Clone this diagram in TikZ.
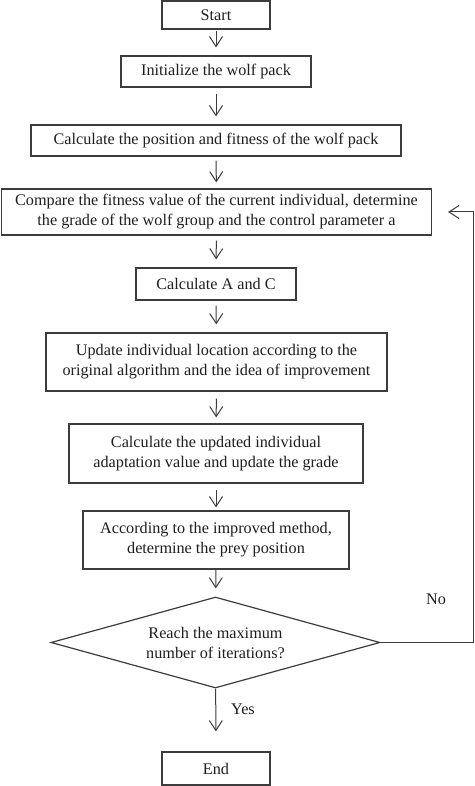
\documentclass[tikz,border=0pt]{standalone}
\usepackage{fontspec}
\setmainfont{Liberation Serif}
\usetikzlibrary{arrows.meta,shapes.geometric}
\definecolor{linec}{HTML}{3C3C3C}
\definecolor{textc}{HTML}{1E1E1E}
\begin{document}
\begin{tikzpicture}[x=1pt,y=-1pt,
  box/.style={draw=linec, line width=1.2pt, inner sep=0pt, align=center, text=textc,
    font=\fontsize{16.2}{20}\selectfont},
  arr/.style={draw=linec, line width=1pt, -{Straight Barb[length=10pt,width=13pt]}},
  lbl/.style={text=textc, font=\fontsize{16.2}{20}\selectfont, inner sep=0pt},
]
\useasboundingbox (0,0) rectangle (474,786);
\node[box, minimum width=108pt, minimum height=28pt] (start) at (216,15) {Start};
\node[box, minimum width=190pt, minimum height=31pt] (init) at (216,71.5) {Initialize the wolf pack};
\node[box, minimum width=370pt, minimum height=31pt] (pos) at (216,140.5) {Calculate the position and fitness of the wolf pack};
\node[box, minimum width=430pt, minimum height=46pt] (cmp) at (216.5,212) {Compare the fitness value of the current individual, determine\\the grade of the wolf group and the control parameter a};
\node[box, minimum width=160pt, minimum height=32pt] (ac) at (216,284) {Calculate A and C};
\node[box, minimum width=341pt, minimum height=58pt] (upd) at (216.5,362) {Update individual location according to the\\original algorithm and the idea of improvement};
\node[box, minimum width=294pt, minimum height=59pt] (cu) at (216,453.5) {Calculate the updated individual\\adaptation value and update the grade};
\node[box, minimum width=266pt, minimum height=58pt] (acc) at (216,540) {According to the improved method,\\determine the prey position};
\node[box, diamond, aspect=3.6, minimum width=329pt, minimum height=91pt] (dia) at (215.5,642.5) {Reach the maximum\\number of iterations?};
\node[box, minimum width=108pt, minimum height=33pt] (end) at (216,768.5) {End};
\coordinate (loopT) at (473,212);
\draw[arr, shorten <=1pt, shorten >=8pt] (start) -- (init);
\draw[arr, shorten <=6pt, shorten >=8pt] (init) -- (pos);
\draw[arr, shorten <=4pt, shorten >=6pt] (pos) -- (cmp);
\draw[arr, shorten <=5pt, shorten >=8pt] (cmp) -- (ac);
\draw[arr, shorten <=5pt, shorten >=8pt] (ac) -- (upd);
\draw[arr, shorten <=7pt, shorten >=6pt] (upd) -- (cu);
\draw[arr, shorten <=6pt, shorten >=3pt] (cu) -- (acc);
\draw[arr, shorten >=8pt] (acc) -- (dia);
\draw[arr, shorten >=20pt] (dia) -- (end);
\draw[arr, shorten >=16pt] (dia.east) -| (loopT) -- (cmp.east);
\node[lbl] (no) at (436,599) {No};
\node[lbl] (yes) at (243,709) {Yes};
\end{tikzpicture}
\end{document}
